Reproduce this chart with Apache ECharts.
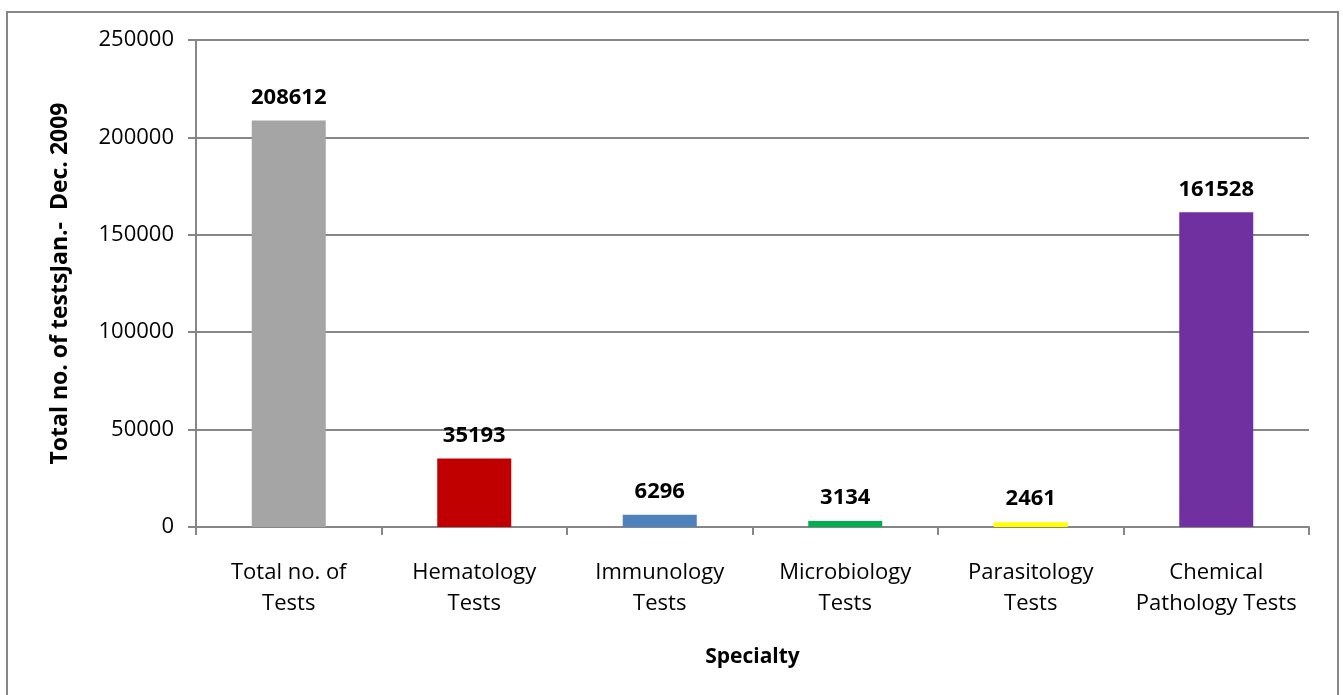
<!DOCTYPE html>
<html>
<head>
<meta charset="utf-8">
<script src="https://cdn.jsdelivr.net/npm/echarts@6/dist/echarts.min.js"></script>
<style>
  html, body { margin: 0; padding: 0; background: #fff; }
  #chart { width: 1343px; height: 695px; }
</style>
</head>
<body>
<div id="chart"></div>
<script>
// categories and counts (Jan - Dec 2009)
const categories = ['Total no. of\nTests', 'Hematology\nTests', 'Immunology\nTests', 'Microbiology\nTests', 'Parasitology\nTests', 'Chemical\nPathology Tests']
const testCounts = [208612, 35193, 6296, 3134, 2461, 161528]
const barColors = ['#A5A5A5', '#C00000', '#4F81BD', '#00B050', '#FFFF00', '#7030A0']

const FONT = 'Open Sans'
const chart = echarts.init(document.getElementById('chart'))

chart.setOption({
  animation: false,
  backgroundColor: '#fff',
  textStyle: { fontFamily: FONT },
  graphic: [{
    type: 'rect',
    shape: { x: 7, y: 12, width: 1331, height: 700 },
    style: { fill: 'none', stroke: '#868686', lineWidth: 2 },
    silent: true
  }],
  grid: { left: 196, right: 34, top: 40, bottom: 168 },
  xAxis: {
    type: 'category',
    data: categories,
    name: 'Specialty',
    nameLocation: 'middle',
    nameGap: 120,
    nameTextStyle: { fontSize: 21, fontWeight: 'bold', color: '#000', fontFamily: FONT },
    axisLine: { lineStyle: { color: '#868686', width: 2 } },
    axisTick: { show: true, length: 8, lineStyle: { color: '#868686', width: 2 } },
    axisLabel: { color: '#000', fontSize: 22, lineHeight: 31, margin: 30, fontFamily: FONT, interval: 0 }
  },
  yAxis: {
    type: 'value',
    min: 0,
    max: 250000,
    interval: 50000,
    name: 'Total no. of testsJan.-  Dec. 2009',
    nameLocation: 'middle',
    nameGap: 124,
    nameRotate: 90,
    nameTextStyle: { fontSize: 23, fontWeight: 'bold', color: '#000', fontFamily: FONT },
    axisLine: { show: true, lineStyle: { color: '#868686', width: 2 } },
    axisTick: { show: true, length: 8, lineStyle: { color: '#868686', width: 2 } },
    axisLabel: { color: '#000', fontSize: 22, margin: 22, fontFamily: FONT, formatter: v => String(v) },
    splitLine: { lineStyle: { color: '#868686', width: 2 } }
  },
  series: [{
    type: 'bar',
    barWidth: 74,
    data: testCounts.map((v, i) => ({ value: v, itemStyle: { color: barColors[i] } })),
    label: {
      show: true,
      position: 'top',
      distance: 12,
      color: '#000',
      fontSize: 22,
      fontWeight: 'bold',
      fontFamily: FONT
    }
  }]
})
</script>
</body>
</html>
